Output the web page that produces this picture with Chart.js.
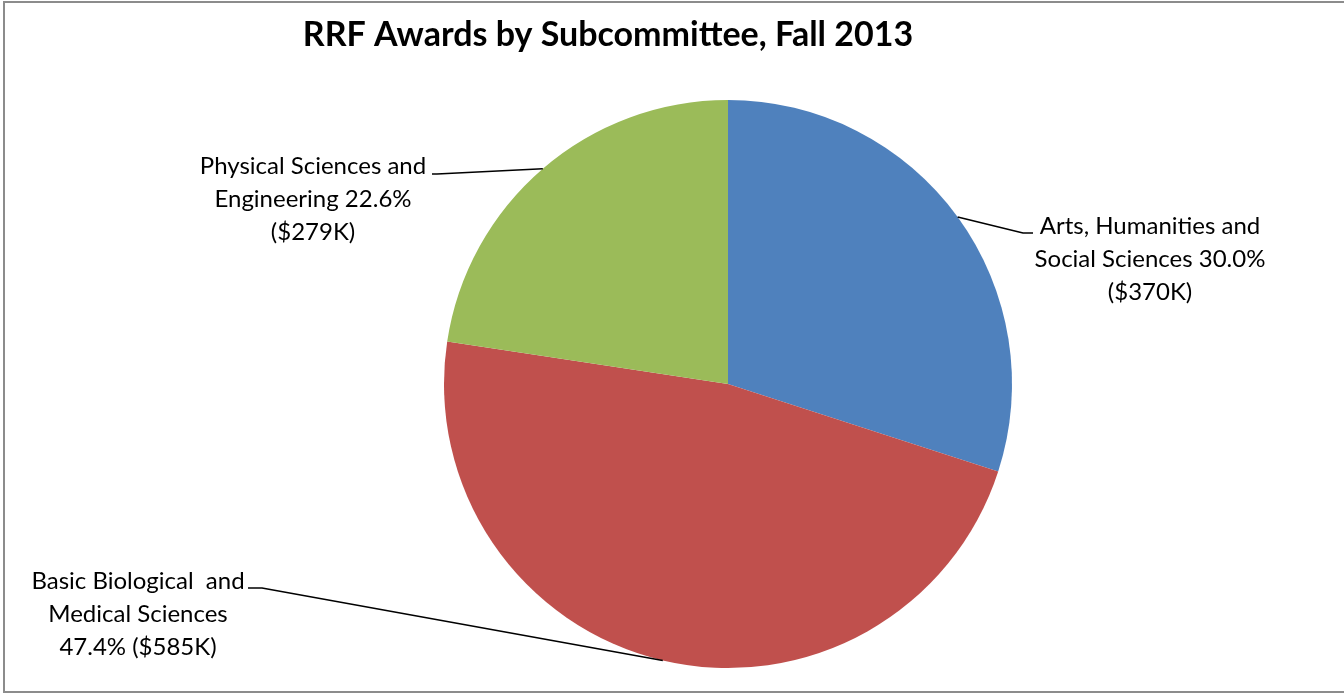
<!DOCTYPE html>
<html>
<head>
<meta charset="utf-8">
<script src="https://cdn.jsdelivr.net/npm/chart.js@4/dist/chart.umd.min.js"></script>
<style>
  html, body { margin: 0; padding: 0; background: #fff; overflow: hidden; }
  canvas { display: block; }
</style>
</head>
<body>
<canvas id="c" width="1344" height="694"></canvas>
<script>
const chartTitle = 'RRF Awards by Subcommittee, Fall 2013';
const categories = ['Arts, Humanities and Social Sciences', 'Basic Biological  and Medical Sciences', 'Physical Sciences and Engineering'];
const amountsK = [370, 585, 279];
const percents = [30.0, 47.4, 22.6];
const colors = ['#4F81BD', '#C0504D', '#9BBB59'];
const labelLines = [
  ['Arts, Humanities and', 'Social Sciences 30.0%', '($370K)'],
  ['Basic Biological  and', 'Medical Sciences', '47.4% ($585K)'],
  ['Physical Sciences and', 'Engineering 22.6%', '($279K)']
];

// label layout: centre x, first baseline y, leader tail & elbow
const labelLayout = [
  { cx: 1150, y0: 233.5, tail: [1033, 233], elbow: [1023, 233] },
  { cx: 138, y0: 589, tail: [248, 588], elbow: [262, 588] },
  { cx: 313, y0: 173.5, tail: [432, 174], elbow: [437, 174] }
];
const FONT = '"Lato", "Open Sans", sans-serif';

const deco = {
  id: 'deco',
  beforeDraw(chart) {
    const ctx = chart.ctx;
    ctx.save();
    ctx.fillStyle = '#fff';
    ctx.fillRect(0, 0, chart.width, chart.height);
    ctx.strokeStyle = '#8c8c8c';
    ctx.lineWidth = 2;
    ctx.strokeRect(4, 2, chart.width + 10, 690);
    ctx.restore();
  },
  afterDraw(chart) {
    const ctx = chart.ctx;
    ctx.save();
    // title
    ctx.fillStyle = '#000';
    ctx.font = 'bold 34px ' + FONT;
    ctx.textAlign = 'center';
    ctx.textBaseline = 'alphabetic';
    ctx.fillText(chartTitle, 608, 46);

    const meta = chart.getDatasetMeta(0);
    meta.data.forEach((arc, i) => {
      const p = arc.getProps(['x', 'y', 'startAngle', 'endAngle', 'outerRadius'], true);
      const mid = (p.startAngle + p.endAngle) / 2;
      const ax = p.x + Math.cos(mid) * p.outerRadius;
      const ay = p.y + Math.sin(mid) * p.outerRadius;
      const L = labelLayout[i];
      ctx.strokeStyle = '#000';
      ctx.lineWidth = 1.6;
      ctx.beginPath();
      ctx.moveTo(L.tail[0], L.tail[1]);
      ctx.lineTo(L.elbow[0], L.elbow[1]);
      ctx.lineTo(ax, ay);
      ctx.stroke();

      ctx.fillStyle = '#000';
      ctx.font = '24px ' + FONT;
      ctx.textAlign = 'center';
      ctx.textBaseline = 'alphabetic';
      labelLines[i].forEach((t, k) => {
        ctx.fillText(t, L.cx, L.y0 + k * 33);
      });
    });
    ctx.restore();
  }
};

new Chart(document.getElementById('c'), {
  type: 'pie',
  data: {
    labels: categories,
    datasets: [{
      data: amountsK,
      backgroundColor: colors,
      borderWidth: 0
    }]
  },
  options: {
    responsive: false,
    animation: false,
    layout: { padding: { left: 444, right: 332, top: 100, bottom: 26 } },
    plugins: {
      legend: { display: false },
      title: { display: false },
      tooltip: { enabled: false }
    }
  },
  plugins: [deco]
});
</script>
</body>
</html>
